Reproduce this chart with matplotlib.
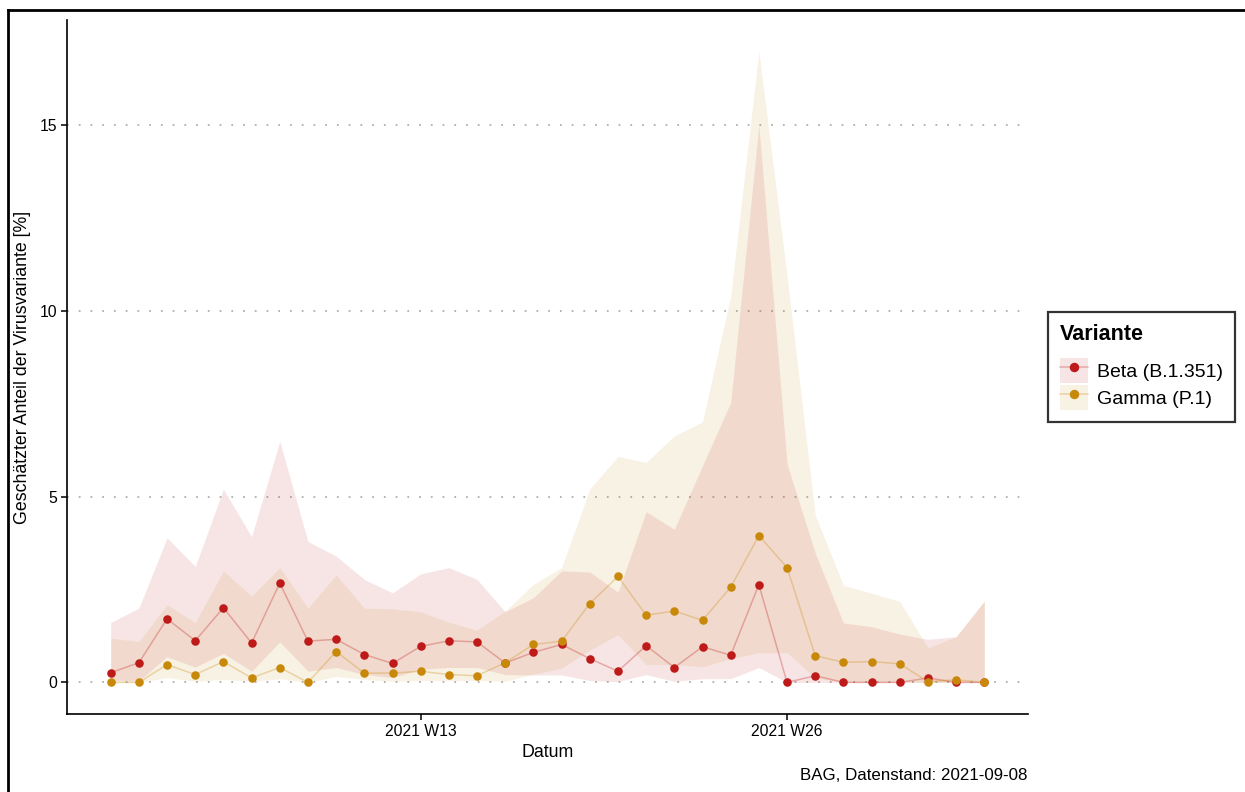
import matplotlib
matplotlib.use("Agg")
import matplotlib.pyplot as plt
from matplotlib.patches import Patch
from matplotlib.lines import Line2D
from matplotlib.legend_handler import HandlerTuple

plt.rcParams['font.family'] = ['Liberation Sans', 'DejaVu Sans']

# calendar weeks 2021 W2 .. W33
weeks = list(range(2, 34))

beta = [0.26, 0.53, 1.71, 1.12, 2.01, 1.06, 2.67, 1.11, 1.16, 0.75, 0.51, 0.97, 1.12, 1.09, 0.52, 0.81,
        1.02, 0.64, 0.30, 0.99, 0.40, 0.96, 0.73, 2.63, 0.00, 0.18, 0.00, 0.00, 0.00, 0.12, 0.00, 0.00]
beta_lo = [0.06, 0.04, 0.69, 0.41, 0.78, 0.30, 1.09, 0.30, 0.40, 0.21, 0.13, 0.35, 0.40, 0.40, 0.21, 0.20,
           0.20, 0.05, 0.02, 0.21, 0.03, 0.10, 0.10, 0.40, 0.00, 0.00, 0.00, 0.00, 0.00, 0.00, 0.00, 0.00]
beta_hi = [1.61, 2.00, 3.89, 3.12, 5.20, 3.92, 6.49, 3.79, 3.40, 2.77, 2.41, 2.92, 3.09, 2.77, 1.90, 2.28,
           3.00, 2.97, 2.43, 4.59, 4.12, 5.83, 7.53, 15.00, 5.88, 3.48, 1.60, 1.50, 1.30, 1.16, 1.23, 2.19]

gamma = [0.00, 0.00, 0.48, 0.21, 0.56, 0.12, 0.40, 0.00, 0.83, 0.25, 0.25, 0.30, 0.21, 0.18, 0.53, 1.02,
         1.11, 2.12, 2.85, 1.81, 1.92, 1.67, 2.56, 3.95, 3.09, 0.72, 0.54, 0.56, 0.50, 0.02, 0.07, 0.00]
gamma_lo = [0.00, 0.00, 0.13, 0.03, 0.08, 0.03, 0.10, 0.00, 0.16, 0.08, 0.03, 0.05, 0.05, 0.05, 0.03, 0.22,
            0.38, 0.87, 1.28, 0.48, 0.48, 0.42, 0.64, 0.80, 0.80, 0.12, 0.00, 0.00, 0.00, 0.00, 0.00, 0.00]
gamma_hi = [1.19, 1.10, 2.09, 1.61, 3.00, 2.32, 3.09, 2.00, 2.89, 2.00, 1.98, 1.90, 1.62, 1.41, 1.92, 2.64,
            3.09, 5.20, 6.08, 5.92, 6.63, 7.01, 10.39, 16.97, 10.93, 4.50, 2.61, 2.40, 2.18, 0.93, 1.23, 2.19]

tick_weeks = [13, 26]
tick_labels = ["2021 W13", "2021 W26"]

col_beta = "#BE1A1A"
col_gamma = "#C8890B"

fig = plt.figure(figsize=(12.45, 7.92), dpi=100)
ax = fig.add_axes([67 / 1245, 1 - 714 / 792, (1028 - 67) / 1245, (714 - 20) / 792])

series = [("Beta (B.1.351)", beta, beta_lo, beta_hi, col_beta),
          ("Gamma (P.1)", gamma, gamma_lo, gamma_hi, col_gamma)]

handles = []
for name, vals, lo, hi, col in series:
    ax.fill_between(weeks, lo, hi, color=col, alpha=0.11, linewidth=0, zorder=1)
for name, vals, lo, hi, col in series:
    ax.plot(weeks, vals, color=col, alpha=0.3, linewidth=1.1, zorder=3)
    ax.scatter(weeks, vals, s=38, color=col, linewidths=0, zorder=4)
    handles.append((Patch(facecolor=col, alpha=0.11, edgecolor="none"),
                    Line2D([0], [0], color=col, alpha=0.3, linewidth=1.1),
                    Line2D([0], [0], color=col, marker="o", markersize=5.8, linestyle="none")))

ax.set_xlim(2 - 1.55, 33 + 1.55)
ax.set_ylim(-0.85, 17.82)
ax.set_yticks([0, 5, 10, 15])
ax.set_xticks(tick_weeks)
ax.set_xticklabels(tick_labels)
ax.yaxis.grid(True, linestyle=(0, (1, 5.5)), color="#b0b0b0", linewidth=1.3)
ax.set_axisbelow(True)
for s in ("top", "right"):
    ax.spines[s].set_visible(False)
for s in ("left", "bottom"):
    ax.spines[s].set_linewidth(1.2)
ax.tick_params(axis="both", length=4, width=1.1, labelsize=11.3, colors="black", pad=3)
ax.set_xlabel("Datum", fontsize=12.8, labelpad=4)
ax.set_ylabel("Geschätzter Anteil der Virusvariante [%]", fontsize=12.8, labelpad=6)

leg = fig.legend(handles, ["Beta (B.1.351)", "Gamma (P.1)"], title="Variante",
                 handler_map={tuple: HandlerTuple(ndivide=1, pad=0)},
                 loc="center left", bbox_to_anchor=(1048 / 1245, 1 - 367 / 792), borderaxespad=0,
                 fontsize=14, title_fontsize=15.5, frameon=True, fancybox=False,
                 handlelength=1.45, handleheight=1.6, handletextpad=0.45,
                 labelspacing=0.1, borderpad=0.62, alignment="left")
leg.get_title().set_fontweight("bold")
leg.get_frame().set_edgecolor("black")
leg.get_frame().set_linewidth(1.6)
leg._legend_box.sep = 9  # extra room below the legend title

fig.text(1027 / 1245, 1 - 776 / 792, "BAG, Datenstand: 2021-09-08", ha="right", va="center", fontsize=12.2)

# outer frame (top and left edges)
fig.add_artist(Line2D([8 / 1245, 1.01], [1 - 10 / 792, 1 - 10 / 792], color="black", linewidth=2,
                      transform=fig.transFigure))
fig.add_artist(Line2D([8 / 1245, 8 / 1245], [1 - 10 / 792, -0.01], color="black", linewidth=2,
                      transform=fig.transFigure))

fig.savefig("out.png", dpi=100, facecolor="white")
